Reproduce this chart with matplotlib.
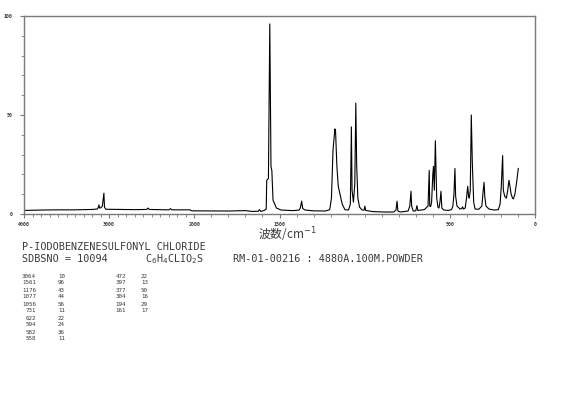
#!/usr/bin/env python3
"""Raman spectrum of p-iodobenzenesulfonyl chloride (SDBS style sheet)."""

import numpy as np
import matplotlib
matplotlib.use('Agg')
import matplotlib.pyplot as plt
from matplotlib.ticker import FixedLocator, FixedFormatter

W, H = 570, 407

# spectrum trace vertices (wavenumber / cm-1, intensity)
trace_wn = [
    4000, 3900, 3800, 3600, 3400, 3200, 3140, 3128, 3120, 3112, 3095, 3080,
    3062, 3055, 3040, 2900, 2700, 2560, 2545, 2530, 2300, 2280, 2265, 2050,
    2030, 1800, 1700, 1660, 1625, 1618, 1610, 1590, 1578, 1575, 1565, 1557,
    1550, 1545, 1538, 1518, 1490, 1420, 1385, 1378, 1370, 1364, 1350, 1300,
    1230, 1205, 1195, 1186, 1175, 1171, 1163, 1155, 1145, 1132, 1116, 1095,
    1084, 1078, 1074, 1066, 1058, 1052, 1047, 1040, 1030, 1015, 1003, 999,
    994, 950, 880, 830, 816, 810, 805, 790, 745, 735, 728, 724, 715, 700,
    693, 688, 650, 628, 621, 618, 613, 607, 600, 596, 591, 585, 577, 570,
    564, 558, 552, 547, 535, 510, 490, 482, 476, 470, 466, 458, 440, 430,
    425, 420, 410, 402, 395, 390, 386, 380, 374, 368, 360, 352, 330, 312,
    304, 299, 295, 288, 270, 240, 215, 205, 198, 190, 186, 178, 168, 160,
    153, 147, 140, 132, 127, 118, 108, 98,
]
trace_int = [
    1.8, 1.9, 2.0, 2.1, 2.1, 2.3, 2.5, 3.2, 4.6, 3.0, 3.2, 4.0,
    10.5, 3.5, 2.4, 2.3, 2.2, 2.3, 3.0, 2.3, 2.1, 2.7, 2.1, 2.1,
    1.6, 1.5, 1.7, 1.3, 1.4, 2.2, 1.3, 1.8, 2.5, 17, 18, 96,
    24, 22, 7, 3.0, 2.0, 1.7, 2.0, 3.0, 6.5, 2.8, 2.0, 1.6,
    1.5, 2.2, 8, 32, 43, 42, 24, 14, 10, 5, 2.2, 2.0,
    5, 44, 12, 6, 15, 56, 25, 8, 3.5, 2.0, 2.0, 4.0,
    1.8, 1.2, 1.0, 1.0, 2.0, 6.5, 1.5, 1.0, 1.5, 4.0, 11.5, 4.0, 1.5, 1.6,
    4.2, 1.8, 2.2, 4.0, 22, 4.0, 3.7, 6, 20, 24, 12, 37, 8, 3.5,
    3.0, 6, 11.5, 3.0, 2.0, 1.8, 2.2, 4.0, 10, 23, 9, 4.0, 2.5, 2.8,
    3.6, 2.5, 3.0, 8, 14, 9, 8, 12, 50, 26, 6, 2.5, 2.4, 4.0,
    12, 16, 9, 4.0, 2.5, 2.0, 2.2, 5, 14, 29.5, 12, 9, 8, 12,
    17, 14, 10, 8, 7.6, 10, 16, 23,
]

# peak table printed under the chart
table_wn = [3064, 1561, 1176, 1077, 1056, 731, 622, 594, 582, 558,
            472, 397, 377, 304, 194, 161]
table_int = [10, 96, 43, 44, 56, 11, 22, 24, 36, 11,
             22, 13, 50, 16, 29, 17]

x_ticks = [4000, 3000, 2000, 1500, 500, 0]
y_ticks = [0, 50, 100]

GRAY = '#7a7a7a'
TXT = '#3a3a3a'


def fwd(w):
    # SDBS sheets compress the 4000-2000 region to half scale
    w = np.asarray(w, dtype=float)
    return np.where(w <= 2000, w, 2000 + (w - 2000) / 2.0)


def inv(u):
    u = np.asarray(u, dtype=float)
    return np.where(u <= 2000, u, 2000 + (u - 2000) * 2.0)


def fx(px):
    return px / W


def fy(py):
    return 1 - py / H


fig = plt.figure(figsize=(W / 100, H / 100), dpi=100)
ax = fig.add_axes([fx(24), fy(214), (535 - 24) / W, (214 - 16) / H])

ax.plot(trace_wn, trace_int, color='black', lw=0.8)

ax.set_xscale('function', functions=(fwd, inv))
ax.set_xlim(4000, 0)
ax.set_ylim(0, 100)

ax.xaxis.set_major_locator(FixedLocator(x_ticks))
ax.xaxis.set_major_formatter(FixedFormatter([str(t) for t in x_ticks]))
ax.xaxis.set_minor_locator(FixedLocator(np.arange(0, 4001, 100)))
ax.yaxis.set_major_locator(FixedLocator(y_ticks))
ax.yaxis.set_minor_locator(FixedLocator(np.arange(0, 101, 10)))

ax.tick_params(axis='x', which='major', direction='out', length=3, width=0.8,
               color=GRAY, labelsize=3.6, labelcolor=TXT, pad=2.5)
ax.tick_params(axis='x', which='minor', direction='out', length=2, width=0.6,
               color=GRAY)
ax.tick_params(axis='y', which='major', direction='out', length=3, width=0.8,
               color=GRAY, labelsize=3.6, labelcolor=TXT, pad=5)
ax.tick_params(axis='y', which='minor', direction='out', length=2, width=0.6,
               color=GRAY)
for lab in ax.get_xticklabels() + ax.get_yticklabels():
    lab.set_family('DejaVu Sans Mono')
    lab.set_weight('bold')

for s in ax.spines.values():
    s.set_color(GRAY)
    s.set_linewidth(1.0)

fig.text(fx(287), fy(235), r'波数/cm$^{-1}$', ha='center', va='center',
         fontsize=8.5, color=TXT, family=['Noto Sans CJK JP', 'DejaVu Sans'])

mono = dict(family='DejaVu Sans Mono', color=TXT, va='center')
fig.text(fx(22.5), fy(247), 'P-IODOBENZENESULFONYL CHLORIDE', fontsize=7.3, **mono)
fig.text(fx(22.5), fy(259.5), 'SDBSNO = 10094', fontsize=7.3, **mono)
fig.text(fx(145), fy(259.5), r'C$_6$H$_4$CLIO$_2$S', fontsize=7.3, **mono)
fig.text(fx(233), fy(259.5), 'RM-01-00216 : 4880A.100M.POWDER', fontsize=7.3, **mono)

# peak list, two blocks of ten rows
for i, (wn, it) in enumerate(zip(table_wn, table_int)):
    col, row = divmod(i, 10)
    y = 276 + row * 7.0
    xw = 36 if col == 0 else 126
    xi = 65 if col == 0 else 148
    fig.text(fx(xw), fy(y), str(wn), ha='right', fontsize=4.2, **mono)
    fig.text(fx(xi), fy(y), str(it), ha='right', fontsize=4.2, **mono)

fig.savefig('out.png', dpi=100)
